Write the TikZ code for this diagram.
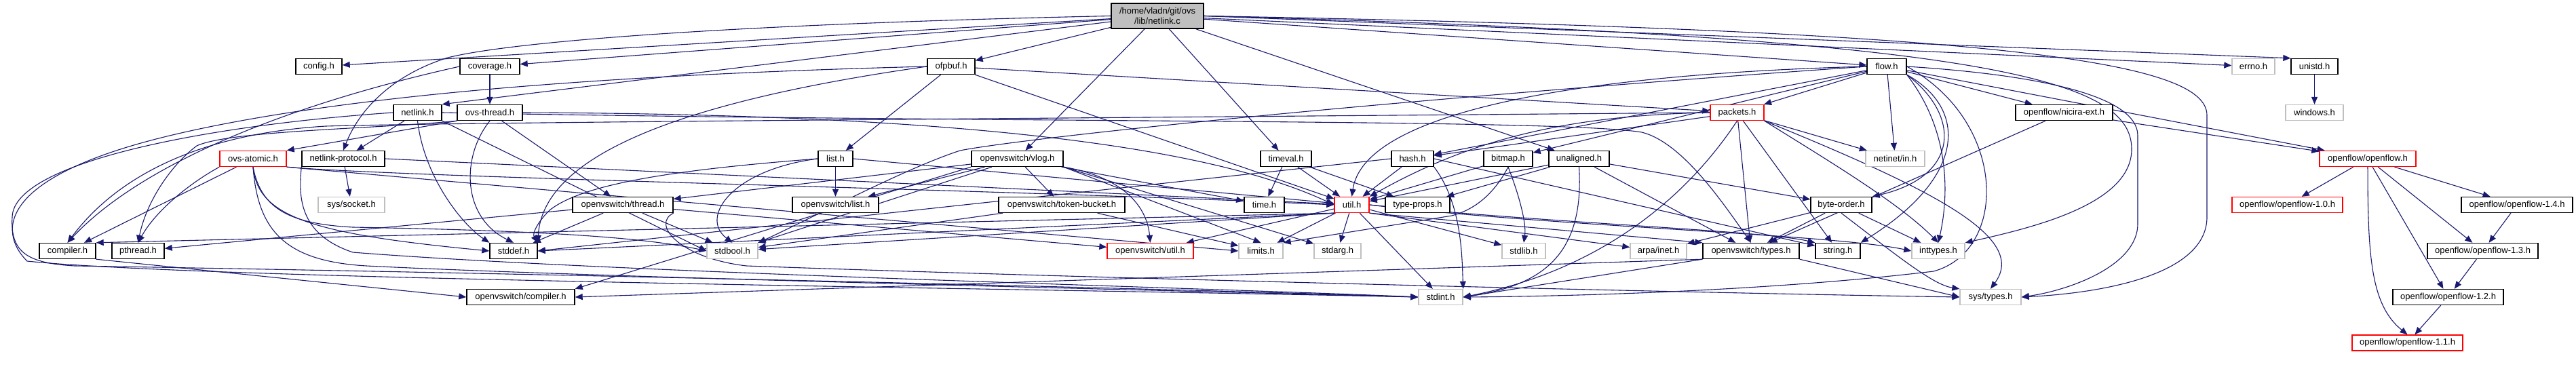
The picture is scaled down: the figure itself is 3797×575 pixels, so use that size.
\documentclass[tikz,border=0pt]{standalone}
\usepackage{fontspec}
\setmainfont{Liberation Sans}
\usetikzlibrary{arrows.meta}
\definecolor{edgec}{HTML}{191970}
\definecolor{extc}{HTML}{BFBFBF}
\pgfdeclarelayer{bg}
\pgfsetlayers{bg,main}
\begin{document}
\begin{tikzpicture}[x=1pt,y=-1pt,
  box/.style={draw,fill=white,line width=1.4pt,minimum height=23pt,inner sep=0pt,font=\fontsize{13}{15}\selectfont},
  nd/.style={box,draw=black},
  ext/.style={box,draw=extc},
  trunc/.style={box,draw=red},
  rootn/.style={box,draw=black,fill=extc,minimum height=37pt,align=center},
  e/.style={draw=edgec,line width=1.1pt,-{Triangle[length=11pt,width=9pt]}}]
\useasboundingbox (0,0) rectangle (3797,575);
% row 0
\node[rootn,minimum width=136pt] (R) at (1706,23.5) {/home/vladn/git/ovs\\/lib/netlink.c};
% row 1
\node[nd,minimum width=68pt] (config) at (470,98) {config.h};
\node[nd,minimum width=88pt] (coverage) at (722,98) {coverage.h};
\node[nd,minimum width=70pt] (ofpbuf) at (1402,98) {ofpbuf.h};
\node[nd,minimum width=58pt] (flow) at (2781,98) {flow.h};
\node[ext,minimum width=63pt] (errno) at (3321.5,98) {errno.h};
\node[nd,minimum width=69pt] (unistd) at (3411.5,98) {unistd.h};
% row 2
\node[nd,minimum width=71pt] (netlinkh) at (615.5,166) {netlink.h};
\node[nd,minimum width=96pt] (ovsthread) at (722,166) {ovs-thread.h};
\node[trunc,minimum width=79pt] (packets) at (2560.5,166) {packets.h};
\node[nd,minimum width=143pt] (nicira) at (3042.5,166) {openflow/nicira-ext.h};
\node[ext,minimum width=85pt] (windows) at (3411.5,166) {windows.h};
% row 3
\node[trunc,minimum width=98pt] (ovsatomic) at (373,234) {ovs-atomic.h};
\node[nd,minimum width=122pt] (nlproto) at (506,234) {netlink-protocol.h};
\node[nd,minimum width=51pt] (list) at (1231.5,234) {list.h};
\node[nd,minimum width=135pt] (vlog) at (1499.5,234) {openvswitch/vlog.h};
\node[nd,minimum width=75pt] (timeval) at (1895.5,234) {timeval.h};
\node[nd,minimum width=62pt] (hash) at (2082,234) {hash.h};
\node[nd,minimum width=72pt] (bitmap) at (2223,234) {bitmap.h};
\node[nd,minimum width=89pt] (unaligned) at (2327.5,234) {unaligned.h};
\node[ext,minimum width=87pt] (netinet) at (2793.5,234) {netinet/in.h};
\node[trunc,minimum width=142pt] (openflow) at (3490,234) {openflow/openflow.h};
% row 4
\node[ext,minimum width=98pt] (socket) at (518,302) {sys/socket.h};
\node[nd,minimum width=148pt] (othread) at (918,302) {openvswitch/thread.h};
\node[nd,minimum width=127pt] (olist) at (1231.5,302) {openvswitch/list.h};
\node[nd,minimum width=186pt] (token) at (1565,302) {openvswitch/token-bucket.h};
\node[nd,minimum width=59pt] (time) at (1863.5,302) {time.h};
\node[trunc,minimum width=51pt] (util) at (1992.5,302) {util.h};
\node[nd,minimum width=95pt] (typeprops) at (2089.5,302) {type-props.h};
\node[nd,minimum width=90pt] (byteorder) at (2714,302) {byte-order.h};
\node[trunc,minimum width=163pt] (of10) at (3371.5,302) {openflow/openflow-1.0.h};
\node[nd,minimum width=164pt] (of14) at (3710,302) {openflow/openflow-1.4.h};
% row 5
\node[nd,minimum width=83pt] (compiler) at (99.5,370) {compiler.h};
\node[nd,minimum width=77pt] (pthread) at (203.5,370) {pthread.h};
\node[nd,minimum width=70pt] (stddef) at (757,370) {stddef.h};
\node[ext,minimum width=75pt] (stdbool) at (1079.5,370) {stdbool.h};
\node[trunc,minimum width=127pt] (outil) at (1695.5,370) {openvswitch/util.h};
\node[ext,minimum width=65pt] (limits) at (1858.5,370) {limits.h};
\node[ext,minimum width=69pt] (stdarg) at (1971.5,370) {stdarg.h};
\node[ext,minimum width=64pt] (stdlib) at (2246,370) {stdlib.h};
\node[ext,minimum width=83pt] (arpa) at (2444.5,370) {arpa/inet.h};
\node[nd,minimum width=142pt] (types) at (2581,370) {openvswitch/types.h};
\node[nd,minimum width=66pt] (string) at (2709,370) {string.h};
\node[ext,minimum width=78pt] (inttypes) at (2857,370) {inttypes.h};
\node[nd,minimum width=163pt] (of13) at (3659.5,370) {openflow/openflow-1.3.h};
% row 6
\node[nd,minimum width=159pt] (ocompiler) at (767.5,438) {openvswitch/compiler.h};
\node[ext,minimum width=65pt] (stdint) at (2123.5,438) {stdint.h};
\node[ext,minimum width=90pt] (systypes) at (2934,438) {sys/types.h};
\node[nd,minimum width=163pt] (of12) at (3608.5,438) {openflow/openflow-1.2.h};
% row 7
\node[trunc,minimum width=163pt] (of11) at (3548.5,505.5) {openflow/openflow-1.1.h};

\begin{pgfonlayer}{bg}
% ---- edges from root
\draw[e] (R) -- (config);
\draw[e] (R) -- (coverage);
\draw[e] (R) -- (netlinkh.north east);
\draw[e] (R.west) .. controls (1100,35) and (760,60) .. (660,85) .. controls (580,110) and (530,160) .. (nlproto.north);
\draw[e] (R) -- (ofpbuf);
\draw[e] (R) -- (vlog);
\draw[e] (R) -- (timeval);
\draw[e] (R) -- (unaligned);
\draw[e] (R) -- (flow);
\draw[e] (R) -- (errno);
\draw[e] (R.east) -- (unistd.north west);
\draw[e] (R.east) .. controls (2950,55) and (3142,120) .. (3142,220) .. controls (3142,300) and (3000,335) .. (inttypes.north east);
\draw[e] (R.east) .. controls (2950,45) and (3253,90) .. (3253,170) -- (3253,320) .. controls (3253,405) and (3100,432) .. (systypes.east);
% coverage
\draw[e] (coverage) -- (ovsthread);
\draw[e] (coverage.west) .. controls (400,160) and (200,250) .. (compiler.north);
% netlink.h
\draw[e] (netlinkh) -- (nlproto);
\draw[e] (netlinkh.south) .. controls (625,260) and (680,330) .. (stddef.north west);
\draw[e] (netlinkh.south east) -- (stdbool.west);
\draw[e] (netlinkh.west) .. controls (300,185) and (20,240) .. (18,320) .. controls (15,372) and (40,388) .. (110,392) .. controls (900,405) and (1800,428) .. (stdint.west);
\draw[e] (netlinkh.east) .. controls (1500,182) and (2300,175) .. (2420,195) .. controls (2480,210) and (2540,300) .. (types.north);
% netlink-protocol.h
\draw[e] (nlproto) -- (socket);
\draw[e] (nlproto.east) -- (util);
\draw[e] (nlproto.south west) .. controls (440,290) and (440,345) .. (520,372) .. controls (900,402) and (1800,425) .. (stdint.west);
% ovs-thread.h
\draw[e] (ovsthread.south west) -- (ovsatomic.north east);
\draw[e] (ovsthread.south west) .. controls (560,190) and (340,192) .. (290,215) .. controls (250,245) and (215,300) .. (pthread.north);
\draw[e] (ovsthread.south) .. controls (680,230) and (680,320) .. (stddef.north);
\draw[e] (ovsthread) -- (othread);
\draw[e] (ovsthread.east) .. controls (1300,168) and (1750,200) .. (util.west);
% ovs-atomic.h
\draw[e] (ovsatomic) -- (compiler);
\draw[e] (ovsatomic.south west) .. controls (280,270) and (230,310) .. (pthread.north);
\draw[e] (ovsatomic.south east) .. controls (600,262) and (1500,280) .. (util.west);
\draw[e] (ovsatomic.south) .. controls (380,320) and (460,345) .. (stddef.west);
\draw[e] (ovsatomic.south) .. controls (385,310) and (430,330) .. (520,335) .. controls (800,340) and (950,350) .. (stdbool.west);
\draw[e] (ovsatomic.south east) -- (limits.west);
\draw[e] (ovsatomic.south) .. controls (380,340) and (420,385) .. (540,392) .. controls (900,410) and (1800,430) .. (stdint.west);
% openvswitch/thread.h
\draw[e] (othread) -- (pthread);
\draw[e] (othread) -- (stddef);
\draw[e] (othread) -- (stdbool);
\draw[e] (othread) -- (outil);
\draw[e] (othread.south east) .. controls (960,330) and (1000,380) .. (1100,392) .. controls (1600,410) and (2500,432) .. (systypes.west);
% ofpbuf.h
\draw[e] (ofpbuf) -- (list);
\draw[e] (ofpbuf) -- (packets);
\draw[e] (ofpbuf) -- (util);
\draw[e] (ofpbuf.west) .. controls (1000,150) and (800,230) .. (stddef.north east);
\draw[e] (ofpbuf.west) .. controls (900,110) and (500,140) .. (250,200) .. controls (0,260) and (-5,340) .. (40,385) .. controls (300,412) and (1500,425) .. (stdint.west);
% list.h
\draw[e] (list) -- (olist);
\draw[e] (list.west) .. controls (1080,250) and (1030,320) .. (stdbool.north);
\draw[e] (list.west) .. controls (1000,250) and (860,270) .. (810,310) .. controls (790,330) and (785,345) .. (stddef.north east);
\draw[e] (list.east) -- (util);
% vlog
\draw[e] (vlog) -- (token);
\draw[e] (vlog.south east) .. controls (1650,260) and (1690,300) .. (outil.north);
\draw[e] (vlog.south east) -- (limits.north);
\draw[e] (vlog) -- (time);
\draw[e] (vlog.south east) -- (stdarg);
\draw[e] (vlog) -- (stdbool);
\draw[e] (vlog.south west) -- (ocompiler.north east);
\draw[e] (vlog) -- (olist);
\draw[e] (vlog) -- (othread);
% token-bucket
\draw[e] (token) -- (limits);
\draw[e] (token) -- (stdbool);
% timeval
\draw[e] (timeval) -- (time);
\draw[e] (timeval) -- (util);
\draw[e] (timeval) -- (typeprops);
% util.h
\draw[e] (util) -- (stdarg);
\draw[e] (util) -- (stdint);
\draw[e] (util) -- (stdlib);
\draw[e] (util) -- (limits);
\draw[e] (util.south west) -- (stdbool);
\draw[e] (util.south west) -- (stddef.east);
\draw[e] (util.south west) -- (compiler.north east);
\draw[e] (util) -- (outil);
\draw[e] (util.south east) -- (arpa);
\draw[e] (util.south east) -- (types.north west);
\draw[e] (util.east) .. controls (2300,330) and (2600,340) .. (string.north west);
\draw[e] (util.east) .. controls (2300,335) and (2700,345) .. (inttypes.west);
% hash.h
\draw[e] (hash) -- (util);
\draw[e] (hash.south east) .. controls (2155,300) and (2155,380) .. (stdint.north east);
\draw[e] (hash.west) -- (stddef.east);
\draw[e] (hash.east) -- (string);
% bitmap.h
\draw[e] (bitmap) -- (util);
\draw[e] (bitmap.south) .. controls (2240,290) and (2250,330) .. (stdlib.north);
\draw[e] (bitmap.south) .. controls (2200,290) and (2170,310) .. (2140,318) -- (limits.north east);
% unaligned.h
\draw[e] (unaligned) -- (util);
\draw[e] (unaligned) -- (typeprops);
\draw[e] (unaligned.south) .. controls (2335,370) and (2280,420) .. (stdint.east);
\draw[e] (unaligned) -- (byteorder);
\draw[e] (unaligned) -- (types);
% packets.h
\draw[e] (packets) -- (netinet);
\draw[e] (packets) -- (types);
\draw[e] (packets) -- (string);
\draw[e] (packets.south) .. controls (2480,300) and (2350,400) .. (stdint.east);
\draw[e] (packets.south east) .. controls (2700,240) and (2800,300) .. (inttypes.north);
\draw[e] (packets.south east) .. controls (2850,280) and (2990,350) .. (systypes.north);
\draw[e] (packets) -- (hash);
\draw[e] (packets.west) .. controls (2300,170) and (2160,210) .. (util.north east);
\draw[e] (packets.west) .. controls (1500,175) and (700,180) .. (480,186) .. controls (250,200) and (150,290) .. (compiler.north);
% flow.h
\draw[e] (flow) -- (packets);
\draw[e] (flow) -- (netinet);
\draw[e] (flow) -- (nicira);
\draw[e] (flow) -- (openflow);
\draw[e] (flow.south east) .. controls (2890,170) and (2890,260) .. (byteorder.north east);
\draw[e] (flow.south east) .. controls (2900,160) and (2900,260) .. (string.north east);
\draw[e] (flow.east) .. controls (2960,180) and (2960,370) .. (2850,400) .. controls (2600,430) and (2300,437) .. (stdint.east);
\draw[e] (flow.east) .. controls (3000,110) and (3151,140) .. (3151,200) -- (3151,330) .. controls (3151,392) and (3050,428) .. (systypes.east);
\draw[e] (flow.south east) .. controls (2880,200) and (2870,300) .. (inttypes.north);
\draw[e] (flow) -- (hash);
\draw[e] (flow.west) .. controls (2300,110) and (2010,170) .. (util.north);
\draw[e] (flow) -- (bitmap);
\draw[e] (flow.west) .. controls (2000,150) and (1500,205) .. (1415,222) .. controls (1330,250) and (1200,320) .. (stdbool.north east);
% nicira
\draw[e] (nicira) -- (openflow);
\draw[e] (nicira) -- (types);
% byte-order
\draw[e] (byteorder) -- (arpa);
\draw[e] (byteorder) -- (types);
\draw[e] (byteorder) -- (inttypes);
\draw[e] (byteorder.south) .. controls (2800,380) and (2850,420) .. (systypes.north west);
% types
\draw[e] (types.south west) -- (stdint.east);
\draw[e] (types.south east) -- (systypes.west);
\draw[e] (types.south west) -- (ocompiler.east);
% openflow
\draw[e] (openflow) -- (of10);
\draw[e] (openflow.south) .. controls (3490,380) and (3495,450) .. (of11.north);
\draw[e] (openflow) -- (of12);
\draw[e] (openflow) -- (of13);
\draw[e] (openflow) -- (of14);
\draw[e] (of14) -- (of13);
\draw[e] (of13) -- (of12);
\draw[e] (of12) -- (of11);
% misc
\draw[e] (unistd) -- (windows);
\draw[e] (compiler.south east) -- (ocompiler.west);
\end{pgfonlayer}
\end{tikzpicture}
\end{document}
